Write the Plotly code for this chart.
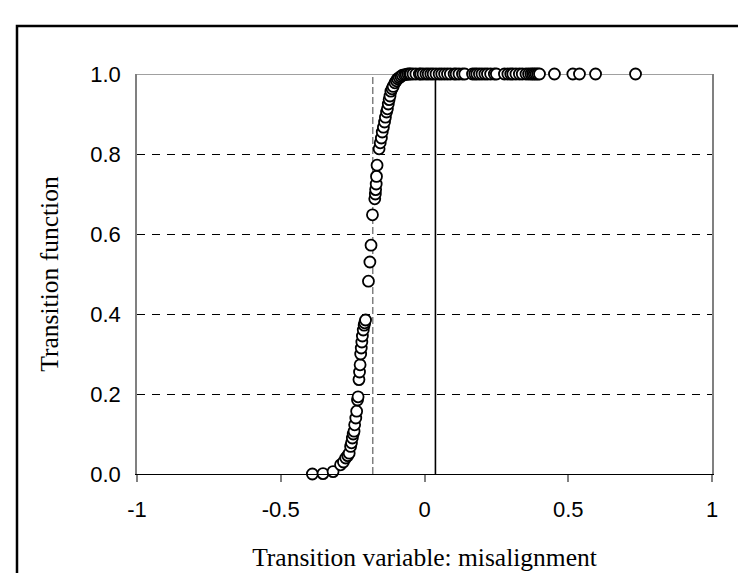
import plotly.graph_objects as go

# ---- data ----
transition_variable = [
    -0.390, -0.353, -0.318, -0.292, -0.282, -0.274, -0.267, -0.262, -0.257, -0.254,
    -0.251, -0.248, -0.245, -0.243, -0.239, -0.236, -0.233, -0.231, -0.228, -0.226,
    -0.224, -0.222, -0.220, -0.218, -0.216, -0.213, -0.210, -0.208, -0.205,
    -0.195, -0.190, -0.186, -0.181,
    -0.173, -0.171, -0.170, -0.168, -0.167, -0.165,
    -0.158, -0.154, -0.150, -0.147, -0.143, -0.139, -0.136, -0.132, -0.129, -0.126,
    -0.123, -0.120, -0.117, -0.113, -0.109, -0.103, -0.098, -0.094, -0.088, -0.082,
    -0.077, -0.070, -0.064, -0.058, -0.052, -0.048, -0.040, -0.030, -0.018, -0.013,
    -0.005, 0.005, 0.013, 0.022, 0.030, 0.040, 0.051, 0.060, 0.070, 0.080,
    0.090, 0.103, 0.110, 0.120, 0.132, 0.140, 0.167, 0.175, 0.182, 0.191,
    0.200, 0.210, 0.219, 0.230, 0.243, 0.250, 0.278, 0.290, 0.300, 0.307,
    0.318, 0.330, 0.340, 0.353, 0.362, 0.370, 0.376, 0.382, 0.388, 0.394,
    0.400, 0.452, 0.516, 0.539, 0.595, 0.734,
]
transition_function = [
    0.000, 0.001, 0.006, 0.023, 0.030, 0.040, 0.046, 0.052, 0.069, 0.078,
    0.090, 0.100, 0.107, 0.123, 0.140, 0.157, 0.185, 0.193, 0.236, 0.255,
    0.273, 0.300, 0.315, 0.330, 0.345, 0.360, 0.372, 0.378, 0.385,
    0.482, 0.530, 0.572, 0.648,
    0.688, 0.700, 0.711, 0.725, 0.744, 0.772,
    0.813, 0.828, 0.840, 0.855, 0.867, 0.880, 0.892, 0.905, 0.913, 0.925,
    0.936, 0.945, 0.957, 0.963, 0.969, 0.978, 0.983, 0.988, 0.991, 0.994,
    0.997, 0.998, 0.999, 1.000, 1.000, 1.000, 1.000, 1.000, 1.000, 1.000,
    1.000, 1.000, 1.000, 1.000, 1.000, 1.000, 1.000, 1.000, 1.000, 1.000,
    1.000, 1.000, 1.000, 1.000, 1.000, 1.000, 1.000, 1.000, 1.000, 1.000,
    1.000, 1.000, 1.000, 1.000, 1.000, 1.000, 1.000, 1.000, 1.000, 1.000,
    1.000, 1.000, 1.000, 1.000, 1.000, 1.000, 1.000, 1.000, 1.000, 1.000,
    1.000, 1.000, 1.000, 1.000, 1.000, 1.000,
]
x_ticks = [-1, -0.5, 0, 0.5, 1]
x_tick_labels = ["-1", "-0.5", "0", "0.5", "1"]
y_ticks = [0.0, 0.2, 0.4, 0.6, 0.8, 1.0]
y_tick_labels = ["0.0", "0.2", "0.4", "0.6", "0.8", "1.0"]
y_grid_values = [0.2, 0.4, 0.6, 0.8]
threshold_line = -0.18      # dashed grey vertical
zero_mark_line = 0.038      # solid black vertical

fig = go.Figure()
fig.add_trace(go.Scatter(
    x=transition_variable, y=transition_function, mode="markers",
    marker=dict(symbol="circle", size=11, color="white",
                line=dict(color="black", width=1.8)),
    cliponaxis=False, showlegend=False,
))

shapes = []
# top border of plot area (grey)
shapes.append(dict(type="line", xref="paper", yref="y", x0=0, x1=1, y0=1, y1=1,
                   line=dict(color="#808080", width=1.5), layer="below"))
# vertical reference lines
shapes.append(dict(type="line", xref="x", yref="y", x0=threshold_line, x1=threshold_line,
                   y0=0, y1=1, line=dict(color="#808080", width=1.5, dash="7px,3px"), layer="below"))
shapes.append(dict(type="line", xref="x", yref="y", x0=zero_mark_line, x1=zero_mark_line,
                   y0=-0.02, y1=1, line=dict(color="black", width=1.6), layer="below"))
# outer chart frame
shapes.append(dict(type="rect", xref="paper", yref="paper", x0=-0.2087, x1=1.1, y0=-0.3, y1=1.12,
                   line=dict(color="black", width=2.5), fillcolor="rgba(0,0,0,0)"))

fig.update_layout(
    width=746, height=573,
    margin=dict(l=129, r=42, t=66, b=107),
    paper_bgcolor="white", plot_bgcolor="white",
    shapes=shapes,
    xaxis=dict(range=[-1, 1], tickvals=x_ticks, ticktext=x_tick_labels,
               showgrid=False, zeroline=False,
               showline=True, linecolor="black", linewidth=1,
               ticks="outside", ticklen=7, tickcolor="#808080", tickwidth=1.5,
               ticklabelstandoff=9,
               tickfont=dict(family="Liberation Sans, Arial", size=22, color="black"),
               title=dict(text="Transition variable: misalignment", standoff=26,
                          font=dict(family="Liberation Serif, Times New Roman", size=25.5, color="black"))),
    yaxis=dict(range=[0, 1], tickvals=y_ticks, ticktext=y_tick_labels,
               showgrid=False, zeroline=False,
               showline=True, linecolor="#808080", linewidth=1.5, mirror=True,
               ticks="", ticklabelstandoff=10,
               tickfont=dict(family="Liberation Sans, Arial", size=22, color="black"),
               minor=dict(tickvals=y_grid_values, showgrid=True, gridcolor="black",
                          griddash="8px,7px", gridwidth=1, ticks=""),
               title=dict(text="Transition function", standoff=24,
                          font=dict(family="Liberation Serif, Times New Roman", size=25.5, color="black"))),
)
fig.write_html("out.html")
